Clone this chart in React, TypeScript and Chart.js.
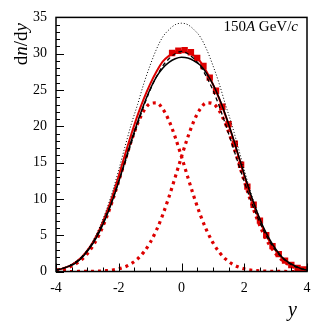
import React, { useEffect, useRef } from "react";
import { Chart, registerables } from "chart.js";

Chart.register(...registerables);

// rapidity grid for curves
const curveY = [
  -4, -3.8, -3.6, -3.4, -3.2, -3, -2.8, -2.6, -2.4, -2.2, -2, -1.8, -1.6, -1.4, -1.2, -1, -0.8, -0.6, -0.4, -0.2,
  0, 0.2, 0.4, 0.6, 0.8, 1, 1.2, 1.4, 1.6, 1.8, 2, 2.2, 2.4, 2.6, 2.8, 3, 3.2, 3.4, 3.6, 3.8, 4,
];

// red solid (fit)
const redFit = [
  0.2, 0.4, 0.7, 1.2, 1.9, 2.9, 4.2, 5.9, 8.0, 10.4, 13.2, 16.1, 18.9, 21.5, 23.8, 25.8, 27.5, 28.9, 29.7, 30.2,
  30.4, 30.2, 29.7, 28.9, 27.5, 25.8, 23.8, 21.5, 18.9, 16.1, 13.2, 10.4, 8.0, 5.9, 4.2, 2.9, 1.9, 1.2, 0.7, 0.4, 0.2,
];

// black solid
const blackSolid = [
  0.2, 0.4, 0.7, 1.1, 1.8, 2.8, 4.0, 5.6, 7.5, 9.8, 12.4, 15.2, 18.0, 20.6, 23.0, 25.1, 26.8, 28.0, 28.8, 29.3,
  29.5, 29.4, 29.0, 28.4, 27.3, 25.8, 23.9, 21.6, 19.0, 16.2, 13.4, 10.7, 8.3, 6.2, 4.5, 3.1, 2.0, 1.3, 0.8, 0.4, 0.2,
];

// black dashed
const blackDashed = [
  0.2, 0.4, 0.7, 1.2, 1.9, 2.9, 4.2, 5.8, 7.7, 9.9, 12.4, 15.0, 17.7, 20.3, 22.8, 25.0, 26.8, 28.3, 29.3, 30.0,
  30.3, 30.0, 29.3, 28.3, 26.8, 25.0, 22.8, 20.3, 17.7, 15.0, 12.4, 9.9, 7.7, 5.8, 4.2, 2.9, 1.9, 1.2, 0.7, 0.4, 0.2,
];

// black dotted
const blackDotted = [
  0.25, 0.45, 0.8, 1.3, 2.0, 3.0, 4.4, 6.2, 8.4, 11.0, 14.0, 17.2, 20.3, 23.0, 25.9, 28.4, 30.6, 32.3, 33.3, 34.0,
  34.2, 34.0, 33.3, 32.3, 30.6, 28.4, 25.9, 23.0, 20.3, 17.2, 14.0, 11.0, 8.4, 6.2, 4.4, 3.0, 2.0, 1.3, 0.8, 0.45, 0.25,
];

// red dotted components
const compLeft = [
  0.18, 0.33, 0.58, 0.97, 1.58, 2.46, 3.69, 5.31, 7.34, 9.75, 12.45, 15.26, 17.98, 20.35, 22.14, 23.13, 23.23, 22.41, 20.77, 18.49,
  15.82, 13.0, 10.27, 7.79, 5.68, 3.98, 2.68, 1.73, 1.08, 0.64, 0.37, 0.2, 0.11, 0.06, 0.03, 0.01, 0.01, 0, 0, 0, 0,
];
const compRight = [
  0, 0, 0, 0, 0.01, 0.01, 0.03, 0.06, 0.11, 0.2, 0.37, 0.64, 1.08, 1.73, 2.68, 3.98, 5.68, 7.79, 10.27, 13.0,
  15.82, 18.49, 20.77, 22.41, 23.23, 23.13, 22.14, 20.35, 17.98, 15.26, 12.45, 9.75, 7.34, 5.31, 3.69, 2.46, 1.58, 0.97, 0.58, 0.33, 0.18,
];

// measured data
const dataY = [-0.3, -0.1, 0.1, 0.3, 0.5, 0.7, 0.9, 1.1, 1.3, 1.5, 1.7, 1.9, 2.1, 2.3, 2.5, 2.7, 2.9, 3.1, 3.3, 3.5, 3.7, 3.9];
const dataV = [30.1, 30.4, 30.5, 30.2, 29.4, 28.3, 26.7, 24.9, 22.7, 20.3, 17.6, 14.7, 11.7, 9.2, 7.0, 5.0, 3.5, 2.4, 1.5, 0.9, 0.5, 0.3];

const xTickLabels = [-4, -2, 0, 2, 4];
const yTickLabels = [0, 5, 10, 15, 20, 25, 30, 35];

const RED = "#dd0000";
const SERIF = "'Liberation Serif', 'DejaVu Serif', serif";

const pts = (xs: number[], ys: number[]) => xs.map((x, i) => ({ x, y: ys[i] }));

function drawRich(
  ctx: CanvasRenderingContext2D,
  parts: [string, boolean][],
  size: number,
  x: number,
  y: number,
  align: "left" | "right"
) {
  const fontFor = (it: boolean) => `${it ? "italic " : ""}${size}px ${SERIF}`;
  let total = 0;
  for (const [t, it] of parts) {
    ctx.font = fontFor(it);
    total += ctx.measureText(t).width;
  }
  let cx = align === "right" ? x - total : x;
  ctx.textAlign = "left";
  ctx.textBaseline = "alphabetic";
  for (const [t, it] of parts) {
    ctx.font = fontFor(it);
    ctx.fillText(t, cx, y);
    cx += ctx.measureText(t).width;
  }
}

const decor = {
  id: "decor",
  afterDraw(chart: any) {
    const { ctx, chartArea: a, scales } = chart;
    const xs = scales.x;
    const ys = scales.y;
    ctx.save();
    ctx.strokeStyle = "#000";
    ctx.lineWidth = 1;
    ctx.beginPath();
    for (let v = 0; v <= 35; v += 1) {
      const p = Math.round(ys.getPixelForValue(v)) + 0.5;
      const len = v % 5 === 0 ? 8 : 4;
      ctx.moveTo(a.left, p);
      ctx.lineTo(a.left + len, p);
    }
    for (let k = 0; k <= 16; k++) {
      const v = -4 + k * 0.5;
      const p = Math.round(xs.getPixelForValue(v)) + 0.5;
      const len = k % 4 === 0 ? 8 : 4;
      ctx.moveTo(p, a.bottom);
      ctx.lineTo(p, a.bottom - len);
    }
    ctx.stroke();
    ctx.lineWidth = 1.5;
    ctx.strokeRect(a.left, a.top, a.right - a.left, a.bottom - a.top);

    ctx.fillStyle = "#000";
    drawRich(ctx, [["150", false], ["A", true], [" GeV/", false], ["c", true]], 15, a.right - 9, a.top + 14, "right");
    drawRich(ctx, [["y", true]], 20, 288, 316, "left");

    ctx.translate(27, 23);
    ctx.rotate(-Math.PI / 2);
    drawRich(ctx, [["d", false], ["n", true], ["/d", false], ["y", true]], 19, 0, 0, "right");
    ctx.restore();
  },
};

export default function App() {
  const ref = useRef<HTMLCanvasElement>(null);
  useEffect(() => {
    if (!ref.current) return;
    const line = (d: number[], color: string, width: number, dash: number[]) => ({
      type: "line" as const,
      data: pts(curveY, d),
      borderColor: color,
      borderWidth: width,
      borderDash: dash,
      borderCapStyle: "butt" as const,
      pointRadius: 0,
      fill: false,
      cubicInterpolationMode: "monotone" as const,
    });
    const chart = new Chart(ref.current, {
      type: "line",
      data: {
        datasets: [
          line(blackSolid, "#000", 1.5, []),
          line(blackDashed, "#000", 1.3, [4, 3]),
          line(blackDotted, "#000", 1, [1, 2]),
          line(redFit, RED, 2, []),
          {
            type: "line",
            data: pts(dataY, dataV),
            showLine: false,
            pointStyle: "rect",
            pointRadius: 4.5,
            backgroundColor: RED,
            borderColor: RED,
            borderWidth: 0,
          } as any,
          line(compLeft, RED, 3.2, [3, 4]),
          line(compRight, RED, 3.2, [3, 4]),
        ],
      },
      options: {
        animation: false,
        responsive: false,
        devicePixelRatio: 1,
        layout: { padding: { top: 17, right: 17, left: 0, bottom: 0 } },
        plugins: { legend: { display: false }, tooltip: { enabled: false } },
        scales: {
          x: {
            type: "linear",
            min: -4,
            max: 4,
            afterFit: (s: any) => {
              s.height = 57.5;
            },
            afterBuildTicks: (s: any) => {
              s.ticks = xTickLabels.map((v) => ({ value: v }));
            },
            grid: { display: false, drawTicks: false },
            border: { display: false },
            ticks: { padding: 8, color: "#000", font: { family: SERIF, size: 14 }, maxRotation: 0 },
          },
          y: {
            type: "linear",
            min: 0,
            max: 35,
            afterFit: (s: any) => {
              s.width = 56;
            },
            afterBuildTicks: (s: any) => {
              s.ticks = yTickLabels.map((v) => ({ value: v }));
            },
            grid: { display: false, drawTicks: false },
            border: { display: false },
            ticks: { padding: 9, color: "#000", font: { family: SERIF, size: 14 } },
          },
        },
      },
      plugins: [decor],
    });
    return () => chart.destroy();
  }, []);
  return (
    <div style={{ position: "fixed", left: 0, top: 0, width: 324, height: 329, background: "#fff" }}>
      <canvas ref={ref} width={324} height={329} style={{ width: 324, height: 329, display: "block" }} />
    </div>
  );
}
